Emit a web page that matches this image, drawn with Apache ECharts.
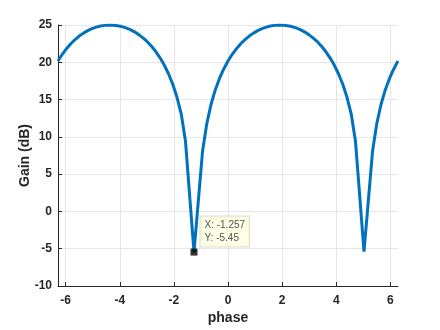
<!DOCTYPE html>
<html>
<head>
<meta charset="utf-8">
<script src="https://cdn.jsdelivr.net/npm/echarts@6/dist/echarts.min.js"></script>
<style>html,body{margin:0;padding:0;background:#fff}#c{width:440px;height:330px}</style>
</head>
<body>
<div id="c"></div>
<script>
var phase = [-6.283,-6.126,-5.969,-5.812,-5.655,-5.498,-5.341,-5.184,-5.027,-4.869,
             -4.712,-4.555,-4.398,-4.241,-4.084,-3.927,-3.770,-3.613,-3.456,-3.299,
             -3.142,-2.985,-2.827,-2.670,-2.513,-2.356,-2.199,-2.042,-1.885,-1.728,
             -1.571,-1.257,-0.942,-0.785,-0.628,-0.471,-0.314,-0.157,
             0.000,0.157,0.314,0.471,0.628,0.785,0.942,1.100,1.257,1.414,
             1.571,1.728,1.885,2.042,2.199,2.356,2.513,2.670,2.827,2.985,
             3.142,3.299,3.456,3.613,3.770,3.927,4.084,4.241,4.398,4.555,
             4.712,5.027,5.341,5.498,5.655,5.812,5.969,6.126,6.283];
var gain = [20.17,21.07,21.83,22.48,23.04,23.52,23.91,24.24,24.51,24.72,
            24.86,24.95,25.00,24.98,24.91,24.79,24.61,24.38,24.08,23.71,
            23.28,22.76,22.15,21.44,20.60,19.62,18.46,17.05,15.31,13.06,
            9.40,-5.45,8.03,11.76,14.34,16.29,17.84,19.11,
            20.17,21.07,21.83,22.48,23.04,23.52,23.91,24.24,24.51,24.72,
            24.86,24.95,25.00,24.98,24.91,24.79,24.61,24.38,24.08,23.71,
            23.28,22.76,22.15,21.44,20.60,19.62,18.46,17.05,15.31,13.06,
            9.40,-5.40,8.03,11.76,14.34,16.29,17.84,19.11,20.17];
var xTicks = [-6,-4,-2,0,2,4,6];
var tipX = [-1.257];
var tipY = [-5.45];

var lineData = phase.map(function(p,i){return [p, gain[i]];});
var tipData = tipX.map(function(p,i){return [p, tipY[i]];});
var axisCol = '#262626';
var font = 'Liberation Sans, Arial, Helvetica, sans-serif';

var chart = echarts.init(document.getElementById('c'), null, {renderer:'canvas'});
chart.setOption({
  animation:false,
  backgroundColor:'#fff',
  grid:{left:58,right:42,top:25,bottom:41,containLabel:false},
  xAxis:{
    type:'value', min:-6.2832, max:6.2832,
    name:'phase', nameLocation:'middle', nameGap:25, nameMoveOverlap:false,
    nameTextStyle:{fontFamily:font,fontWeight:'bold',fontSize:14,color:axisCol},
    axisLine:{show:true,onZero:false,lineStyle:{color:axisCol,width:1}},
    axisTick:{show:true,inside:true,length:4,customValues:xTicks,lineStyle:{color:axisCol}},
    axisLabel:{customValues:xTicks,fontFamily:font,fontWeight:'bold',fontSize:12,color:axisCol,margin:9},
    splitLine:{show:true,lineStyle:{color:'#e6e6e6',width:1}}
  },
  yAxis:{
    type:'value', min:-10, max:25, interval:5,
    name:'Gain (dB)', nameLocation:'middle', nameGap:26, nameMoveOverlap:false,
    nameTextStyle:{fontFamily:font,fontWeight:'bold',fontSize:14,color:axisCol},
    axisLine:{show:true,onZero:false,lineStyle:{color:axisCol,width:1}},
    axisTick:{show:true,inside:true,length:4,lineStyle:{color:axisCol}},
    axisLabel:{fontFamily:font,fontWeight:'bold',fontSize:12,color:axisCol,margin:6},
    splitLine:{show:true,lineStyle:{color:'#e6e6e6',width:1}}
  },
  series:[
    {type:'line', data:lineData, showSymbol:false, smooth:false,
     lineStyle:{color:'#0072BD',width:3}, z:3},
    {type:'scatter', data:tipData, symbol:'rect', symbolSize:7,
     itemStyle:{color:'#000'}, z:5,
     label:{show:true, position:[10,-32],
       formatter:function(p){return 'X: '+p.value[0].toFixed(3)+'\nY: '+p.value[1].toFixed(2);},
       fontFamily:font, fontSize:10, color:'#262626', lineHeight:13,
       backgroundColor:'#ffffe1', borderColor:'#d6d6c2', borderWidth:1, padding:[2,4,2,4]}}
  ]
});
</script>
</body>
</html>
